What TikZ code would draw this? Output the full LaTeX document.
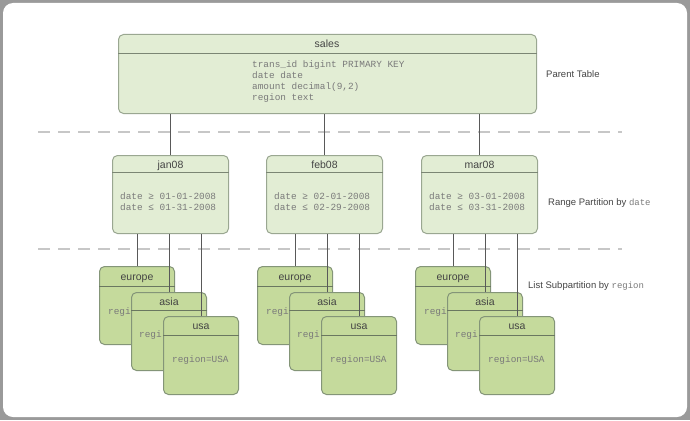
\documentclass[tikz,border=0pt]{standalone}
\usepackage{fontspec}
\setmainfont{Liberation Sans}
\setmonofont{Liberation Mono}
\definecolor{pfill}{HTML}{E2EDD4}
\definecolor{pline}{HTML}{9AA791}
\definecolor{sfill}{HTML}{C5DA9C}
\definecolor{sline}{HTML}{849578}
\definecolor{hdtext}{HTML}{444444}
\definecolor{mtext}{HTML}{7A7A7A}
\definecolor{frame}{HTML}{9A9A9A}
\begin{document}
\begin{tikzpicture}[x=1pt,y=-1pt,
  ptbl/.style={draw=pline,fill=pfill,line width=1pt,rounded corners=5pt,inner sep=0pt,anchor=north west},
  stbl/.style={draw=sline,fill=sfill,line width=1pt,rounded corners=5pt,inner sep=0pt,anchor=north west,minimum width=75pt,minimum height=78pt},
  rtbl/.style={ptbl,minimum width=116pt,minimum height=78pt},
  hdr/.style={font=\fontsize{10.5}{12}\selectfont,text=hdtext,inner sep=0pt,text height=7.5pt,text depth=0pt},
  mono/.style={font=\ttfamily\fontsize{9.4}{11}\selectfont,text=mtext,inner sep=0pt,align=left},
  lbl/.style={font=\fontsize{9.5}{11}\selectfont,text=hdtext,inner sep=0pt,anchor=west},
  conn/.style={draw=black!65,line width=0.8pt},
  sep/.style={draw=black!22,line width=1.8pt,dash pattern=on 12pt off 8pt},
  pdiv/.style={draw=pline!80!black,line width=0.8pt},
  sdiv/.style={draw=sline!80!black,line width=0.8pt}]
% frame
\fill[frame] (0,0) rectangle (690,420);
\fill[white,rounded corners=10pt] (3,3) rectangle (687,417);
\useasboundingbox (0,0) rectangle (690,420);
% separators
\coordinate (s1a) at (38,132);
\coordinate (s1b) at (622,132);
\coordinate (s2a) at (38,249);
\coordinate (s2b) at (622,249);
\draw[sep] (s1a) -- (s1b);
\draw[sep] (s2a) -- (s2b);
% parent
\node[ptbl,minimum width=418pt,minimum height=79pt] (sales) at (118,34) {};
\draw[pdiv] ([yshift=-19pt]sales.north west) -- ([yshift=-19pt]sales.north east);
\node[hdr] (salesh) at (327,44) {sales};
\node[mono,anchor=north west] (salesb) at (252,60) {trans\_id bigint PRIMARY KEY\\date date\\amount decimal(9,2)\\region text};
\node[lbl] (lp) at (546,74) {Parent Table};
% range partitions
\node[rtbl] (jan) at (112,155) {};
\node[rtbl] (feb) at (266,155) {};
\node[rtbl] (mar) at (421,155) {};
\foreach \t/\n in {jan/jan08,feb/feb08,mar/mar08}{
  \draw[pdiv] ([yshift=-17pt]\t.north west) -- ([yshift=-17pt]\t.north east);
  \node[hdr] (\t h) at ([yshift=-9.5pt]\t.north) {\n};
}
\node[mono,anchor=west] (janb) at ([xshift=8pt,yshift=-47pt]jan.north west) {date ≥ 01-01-2008\\date ≤ 01-31-2008};
\node[mono,anchor=west] (febb) at ([xshift=8pt,yshift=-47pt]feb.north west) {date ≥ 02-01-2008\\date ≤ 02-29-2008};
\node[mono,anchor=west] (marb) at ([xshift=8pt,yshift=-47pt]mar.north west) {date ≥ 03-01-2008\\date ≤ 03-31-2008};
\node[lbl] (lr) at (548,203) {Range Partition by {\ttfamily\fontsize{9}{11}\selectfont\color{mtext}date}};
% connectors parent -> range
\foreach \t in {jan,feb,mar}{
  \draw[conn] (\t.north |- sales.south) -- (\t.north);
}
% subpartitions
\foreach \g/\x in {a/99,b/257,c/415}{
  \node[stbl] (\g e) at (\x,266) {};
  \draw[sdiv] ([yshift=-20pt]\g e.north west) -- ([yshift=-20pt]\g e.north east);
  \node[hdr] (\g eh) at ([yshift=-11pt]\g e.north) {europe};
  \node[mono,anchor=west] (\g eb) at ([xshift=9pt,yshift=-46pt]\g e.north west) {regi};
  \node[stbl] (\g a) at (\x+32,292) {};
  \draw[sdiv] ([yshift=-18pt]\g a.north west) -- ([yshift=-18pt]\g a.north east);
  \node[hdr] (\g ah) at ([yshift=-10pt]\g a.north) {asia};
  \node[mono,anchor=west] (\g ab) at ([xshift=8pt,yshift=-43pt]\g a.north west) {regi};
  \node[stbl] (\g u) at (\x+64,316) {};
  \draw[sdiv] ([yshift=-19pt]\g u.north west) -- ([yshift=-19pt]\g u.north east);
  \node[hdr] (\g uh) at ([yshift=-10pt]\g u.north) {usa};
  \node[mono,anchor=west] (\g ub) at ([xshift=9pt,yshift=-44pt]\g u.north west) {region=USA};
}
\node[lbl] (ll) at (528,286) {List Subpartition by {\ttfamily\fontsize{9}{11}\selectfont\color{mtext}region}};
% connectors range -> sub
\foreach \t/\g in {jan/a,feb/b,mar/c}{
  \draw[conn] (\g e.north |- \t.south) -- (\g e.north);
  \draw[conn] (\g a.north |- \t.south) -- (\g a.north);
  \draw[conn] (\g u.north |- \t.south) -- (\g u.north);
}
\end{tikzpicture}
\end{document}
